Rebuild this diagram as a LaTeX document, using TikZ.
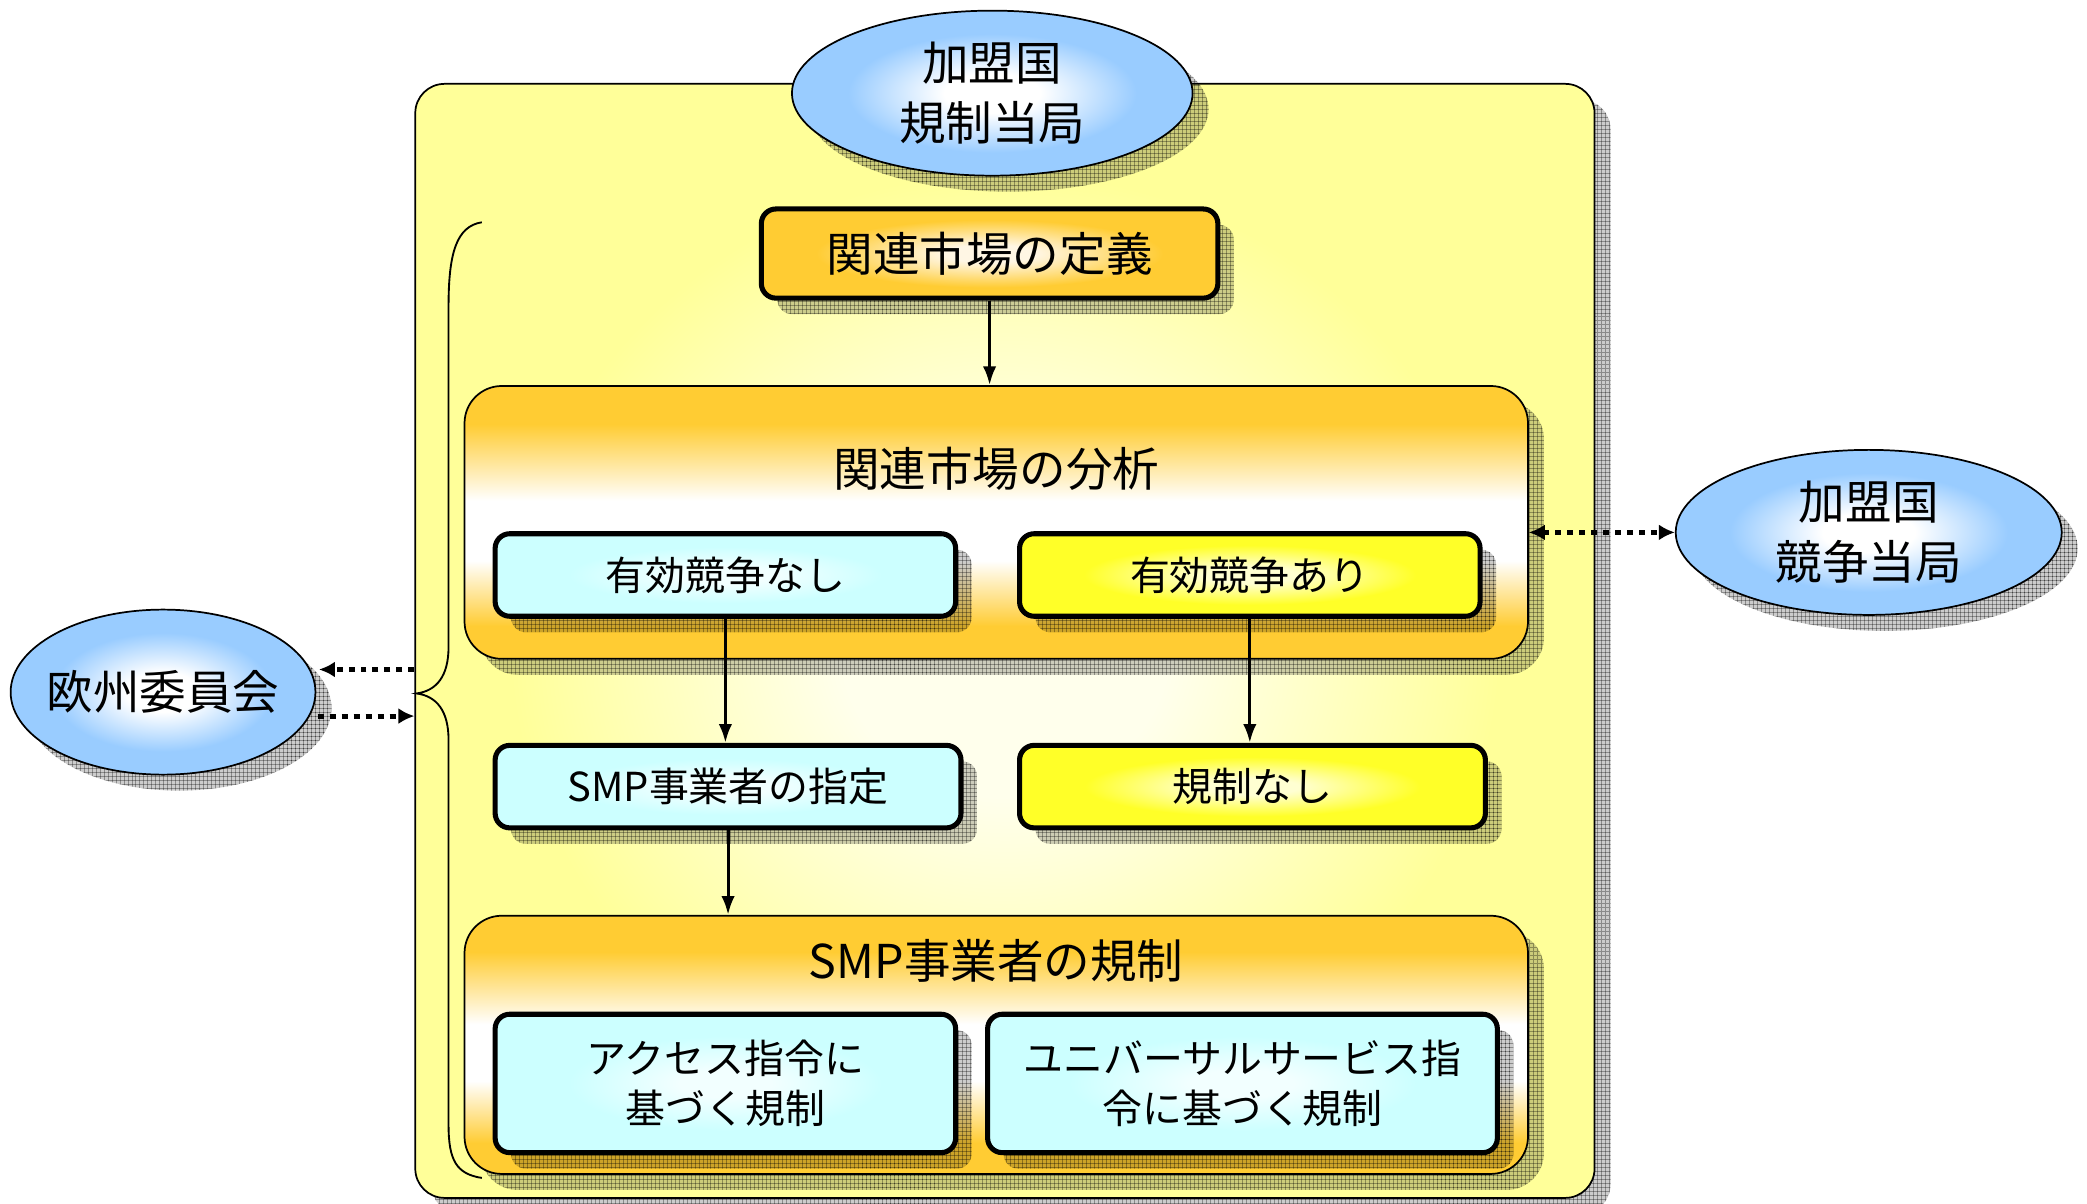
\documentclass[tikz,border=0pt]{standalone}
\usepackage{fontspec}
\newfontfamily\jp{Noto Sans CJK JP}
\usetikzlibrary{shadows,patterns,arrows.meta,calc,shapes.geometric}
\definecolor{ellblue}{RGB}{153,204,255}
\definecolor{bige}{RGB}{255,255,153}
\definecolor{bigc}{RGB}{255,255,236}
\definecolor{cyane}{RGB}{204,255,255}
\definecolor{cyanc}{RGB}{242,255,255}
\definecolor{yele}{RGB}{255,255,40}
\definecolor{yelc}{RGB}{255,255,210}
\definecolor{orge}{RGB}{255,204,51}
\definecolor{orgc}{RGB}{255,246,228}
% TikZ maps a path's bounding box onto the central 50bp of a shading (25bp..75bp)
\pgfdeclareradialshading{ellsh}{\pgfpoint{0bp}{0bp}}{color(0bp)=(white);color(6bp)=(white);color(18bp)=(ellblue);color(50bp)=(ellblue)}
\pgfdeclareradialshading{bigsh}{\pgfpoint{0bp}{0bp}}{color(0bp)=(bigc);color(7bp)=(bigc);color(21bp)=(bige);color(50bp)=(bige)}
\pgfdeclareradialshading{cyansh}{\pgfpoint{0bp}{0bp}}{color(0bp)=(cyanc);color(5bp)=(cyanc);color(17bp)=(cyane);color(50bp)=(cyane)}
\pgfdeclareradialshading{yelsh}{\pgfpoint{0bp}{0bp}}{color(0bp)=(yelc);color(5bp)=(yelc);color(18bp)=(yele);color(50bp)=(yele)}
\pgfdeclareradialshading{orgsh}{\pgfpoint{0bp}{0bp}}{color(0bp)=(orgc);color(5bp)=(orgc);color(19bp)=(orge);color(50bp)=(orge)}
\pgfdeclareverticalshading{ctrsh}{100bp}{color(0bp)=(orge);color(31bp)=(orge);color(43bp)=(white);color(54bp)=(white);color(68bp)=(orge);color(100bp)=(orge)}
\begin{document}
\begin{tikzpicture}[x=1pt,y=-1pt,
  shad/.style={
    drop shadow={shadow xshift=12pt,shadow yshift=-12pt,fill=black,opacity=0.2},
    drop shadow={shadow xshift=12pt,shadow yshift=-12pt,pattern=grid,pattern color=black,opacity=0.32}},
  ellnode/.style={ellipse,draw,line width=1.3pt,shading=ellsh,minimum height=124pt,inner sep=0pt,
    align=center,font=\jp\fontsize{35}{45}\selectfont,shad},
  bigbox/.style={rectangle,draw,line width=1.3pt,rounded corners=22pt,shading=bigsh,shad},
  ctr/.style={rectangle,draw,line width=1.3pt,rounded corners=28pt,shading=ctrsh,shad},
  ttl/.style={font=\jp\fontsize{35}{45}\selectfont,inner sep=0pt},
  ibox/.style={rectangle,draw,line width=3.8pt,rounded corners=11pt,minimum height=62pt,inner sep=0pt,
    align=center,font=\jp\fontsize{30}{38}\selectfont,shad},
  cybox/.style={ibox,shading=cyansh},
  ylbox/.style={ibox,shading=yelsh},
  arr/.style={line width=2.3pt,-{Latex[length=14pt,width=10pt]}},
  dotarr/.style={line width=3.8pt,dash pattern=on 4.5pt off 4.5pt,-{Latex[length=12pt,width=12pt]}}
]
\useasboundingbox (0,0) rectangle (1568,904);

% main yellow frame
\node[bigbox,minimum width=886pt,minimum height=837pt] (big) at (755,481.5) {};

% brace
\draw[line width=1.4pt] (362,167) .. controls (343,170) and (337,190) .. (337,230) -- (337,486)
  .. controls (337,508) and (328,519) .. (313,521) .. controls (328,523) and (337,534) .. (337,556)
  -- (337,845) .. controls (337,872) and (343,882) .. (362,885);

% top ellipse
\node[ellnode,minimum width=301pt] (er) at (745.5,70) {加盟国\\規制当局};

% definition box
\node[ibox,shading=orgsh,minimum width=343pt,minimum height=67pt,font=\jp\fontsize{35}{45}\selectfont] (def) at (743.5,190.5) {関連市場の定義};

% analysis container
\node[ctr,minimum width=799pt,minimum height=205pt] (ana) at (748.5,392.5) {};
\node[ttl] (anat) at (748.5,352) {関連市場の分析};
\node[cybox,minimum width=346pt] (nashi) at (545,432) {有効競争なし};
\node[ylbox,minimum width=346pt] (ari) at (939,432) {有効競争あり};

\draw[arr] (def.south) -- (def.south |- ana.north);

% middle boxes
\node[cybox,minimum width=350pt] (smp) at (547,591) {SMP事業者の指定};
\node[ylbox,minimum width=350pt] (kisei) at (941,591) {規制なし};
\draw[arr] (nashi.south) -- (nashi.south |- smp.north);
\draw[arr] (ari.south) -- (ari.south |- kisei.north);

% regulation container
\node[ctr,minimum width=799pt,minimum height=194pt] (reg) at (748.5,785) {};
\node[ttl] (regt) at (748.5,722) {SMP事業者の規制};
\node[cybox,minimum width=346pt,minimum height=104pt] (acc) at (545,814) {アクセス指令に\\基づく規制};
\node[cybox,minimum width=383pt,minimum height=104pt] (uni) at (933.5,814) {ユニバーサルサービス指\\令に基づく規制};
\draw[arr] (smp.south) -- (smp.south |- reg.north);

% side ellipses
\node[ellnode,minimum width=290pt] (ec) at (1404,400) {加盟国\\競争当局};
\node[ellnode,minimum width=229pt,inner xsep=-40pt] (eu) at (122.5,520) {欧州委員会};

% dotted connectors
\coordinate (bu) at ($(big.west)+(0,21.5)$);
\coordinate (bl) at ($(big.west)+(0,56.5)$);
\draw[dotarr] (bu) -- ($(eu.east)+(2,-17)$);
\draw[dotarr] ($(eu.east)+(1,18)$) -- (bl);
\draw[dotarr,{Latex[length=12pt,width=12pt]}-{Latex[length=12pt,width=12pt]}] (ana.east |- ec.west) -- (ec.west);
\end{tikzpicture}
\end{document}
